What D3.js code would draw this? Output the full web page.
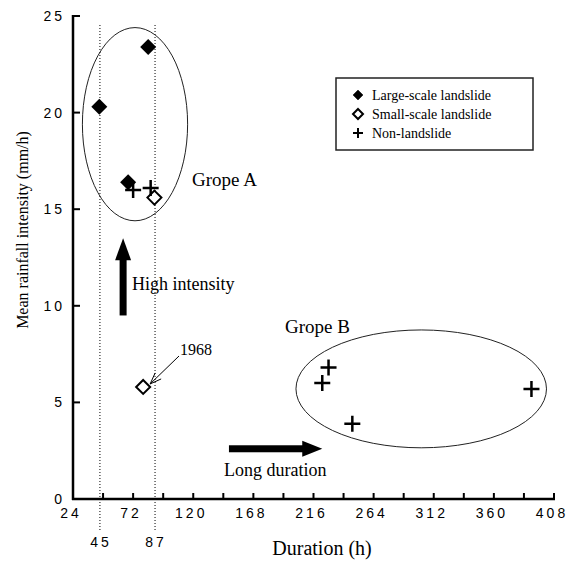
<!DOCTYPE html>
<html>
<head>
<meta charset="utf-8">
<title>Rainfall intensity vs duration</title>
<style>
body { margin: 0; background: #fff; }
.tick-label { font-family: 'Liberation Sans', Arial, sans-serif; font-size: 14px; letter-spacing: 3px; fill: #000; }
.serif { font-family: 'Liberation Serif', 'Times New Roman', serif; fill: #000; }
</style>
</head>
<body>
<svg width="569" height="564"></svg>
<script src="https://d3js.org/d3.v7.min.js"></script>
<script>
// data
var largeSlide = [[45, 20.3], [84, 23.4], [68, 16.4]];
var smallSlide = [[89, 15.6], [80, 5.8]];
var nonSlide = [[72, 16.0], [86, 16.1], [228, 6.8], [223, 6.0], [247, 3.9], [390, 5.7]];
var xTicks = [24, 72, 120, 168, 216, 264, 312, 360, 408];
var xMinor = [48, 96, 144, 192, 240, 288, 336, 384];
var yTicks = [0, 5, 10, 15, 20, 25];
// dotted guide lines: label and where the line is drawn on the duration axis
var markLabels = ["45", "87"];
var markAt = [45.5, 89.5];
// groups: centre duration, centre intensity, half width (h), half height (mm/h)
var groups = [
  {name: "Grope A", cx: 73.5, cy: 19.4, rx: 42, ry: 5.0},
  {name: "Grope B", cx: 302, cy: 5.7, rx: 100, ry: 3.05}
];
var legendItems = ["Large-scale landslide", "Small-scale landslide", "Non-landslide"];

var svg = d3.select("svg");
var x = d3.scaleLinear().domain([24, 408]).range([73, 554]);
var y = d3.scaleLinear().domain([0, 25]).range([499, 16]);

// dotted reference lines
svg.selectAll(".mark-line").data(markAt).enter().append("line")
  .attr("x1", d => x(d)).attr("x2", d => x(d))
  .attr("y1", 25).attr("y2", 530)
  .attr("stroke", "#000").attr("stroke-width", 1)
  .attr("stroke-dasharray", "1,2");
svg.selectAll(".mark-label").data(markLabels).enter().append("text")
  .attr("class", "tick-label")
  .attr("x", (d, i) => x(markAt[i]) + 1).attr("y", 547)
  .attr("text-anchor", "middle")
  .text(d => d);

// group ellipses
svg.selectAll(".group").data(groups).enter().append("ellipse")
  .attr("cx", d => x(d.cx)).attr("cy", d => y(d.cy))
  .attr("rx", d => x(d.cx + d.rx) - x(d.cx))
  .attr("ry", d => y(d.cy - d.ry) - y(d.cy))
  .attr("fill", "none").attr("stroke", "#222").attr("stroke-width", 1);

svg.append("text").attr("class", "serif").attr("font-size", 19)
  .attr("x", 192).attr("y", 186).text(groups[0].name);
svg.append("text").attr("class", "serif").attr("font-size", 19)
  .attr("x", 285).attr("y", 333).text(groups[1].name);

// axes
svg.append("line").attr("x1", 73).attr("x2", 73).attr("y1", 15).attr("y2", 500)
  .attr("stroke", "#000").attr("stroke-width", 2.5);
svg.append("line").attr("x1", 72).attr("x2", 555).attr("y1", 499).attr("y2", 499)
  .attr("stroke", "#000").attr("stroke-width", 2.5);

svg.selectAll(".ytick").data(yTicks).enter().append("line")
  .attr("x1", 73).attr("x2", 80)
  .attr("y1", d => y(d)).attr("y2", d => y(d))
  .attr("stroke", "#000").attr("stroke-width", 2);
svg.selectAll(".ylabel").data(yTicks).enter().append("text")
  .attr("class", "tick-label")
  .attr("x", 65).attr("y", d => y(d) + 5)
  .attr("text-anchor", "end")
  .text(d => d);

svg.selectAll(".xtick").data(xTicks.concat(xMinor)).enter().append("line")
  .attr("x1", d => x(d)).attr("x2", d => x(d))
  .attr("y1", 499).attr("y2", 493)
  .attr("stroke", "#000").attr("stroke-width", 2);
svg.selectAll(".xlabel").data(xTicks).enter().append("text")
  .attr("class", "tick-label")
  .attr("x", d => x(d) - 2).attr("y", 518)
  .attr("text-anchor", "middle")
  .text(d => d);

svg.append("text").attr("class", "serif").attr("font-size", 16)
  .attr("transform", "translate(28,230) rotate(-90)")
  .attr("text-anchor", "middle")
  .text("Mean rainfall intensity (mm/h)");
svg.append("text").attr("class", "serif").attr("font-size", 20)
  .attr("x", 322).attr("y", 555).attr("text-anchor", "middle")
  .text("Duration (h)");

// arrows
var upX = x(64), upBottom = y(9.5), upTop = y(13.5);
svg.append("rect").attr("x", upX - 3.5).attr("y", upTop + 20)
  .attr("width", 7).attr("height", upBottom - upTop - 20).attr("fill", "#000");
svg.append("path")
  .attr("d", `M${upX},${upTop} L${upX + 8},${upTop + 22} L${upX - 8},${upTop + 22} Z`)
  .attr("fill", "#000");
svg.append("text").attr("class", "serif").attr("font-size", 18)
  .attr("x", 132).attr("y", 290).text("High intensity");

var rY = y(2.6), rLeft = x(148.5), rRight = x(223);
svg.append("rect").attr("x", rLeft).attr("y", rY - 3.5)
  .attr("width", rRight - rLeft - 18).attr("height", 7).attr("fill", "#000");
svg.append("path")
  .attr("d", `M${rRight},${rY} L${rRight - 20},${rY - 8} L${rRight - 20},${rY + 8} Z`)
  .attr("fill", "#000");
svg.append("text").attr("class", "serif").attr("font-size", 18)
  .attr("x", 224).attr("y", 476).text("Long duration");

// 1968 annotation
var ann = smallSlide[1];
svg.append("text").attr("class", "serif").attr("font-size", 16)
  .attr("x", 180).attr("y", 355).text("1968");
svg.append("line")
  .attr("x1", 179).attr("y1", 356)
  .attr("x2", x(ann[0]) + 7).attr("y2", y(ann[1]) - 3)
  .attr("stroke", "#000").attr("stroke-width", 1);
svg.append("path")
  .attr("d", `M${x(ann[0]) + 12},${y(ann[1]) - 14} L${x(ann[0]) + 7},${y(ann[1]) - 3} L${x(ann[0]) + 18},${y(ann[1]) - 8}`)
  .attr("fill", "none").attr("stroke", "#000").attr("stroke-width", 1);

// marker shapes
function diamond(s) { return `M0,${-s} L${s},0 L0,${s} L${-s},0 Z`; }
function cross(s) { return `M${-s},0 L${s},0 M0,${-s} L0,${s}`; }

svg.selectAll(".large").data(largeSlide).enter().append("path")
  .attr("transform", d => `translate(${x(d[0])},${y(d[1])})`)
  .attr("d", diamond(8)).attr("fill", "#000");
svg.selectAll(".small").data(smallSlide).enter().append("path")
  .attr("transform", d => `translate(${x(d[0])},${y(d[1])})`)
  .attr("d", diamond(7)).attr("fill", "#fff").attr("stroke", "#000").attr("stroke-width", 2);
svg.selectAll(".non").data(nonSlide).enter().append("path")
  .attr("transform", d => `translate(${x(d[0])},${y(d[1])})`)
  .attr("d", cross(8)).attr("fill", "none").attr("stroke", "#000").attr("stroke-width", 2.5);

// legend
var legend = svg.append("g").attr("transform", "translate(336,78)");
legend.append("rect").attr("width", 197).attr("height", 72)
  .attr("fill", "#fff").attr("stroke", "#222").attr("stroke-width", 1.5);
var rows = legend.selectAll(".row").data(legendItems).enter().append("g")
  .attr("transform", (d, i) => `translate(22,${17 + i * 19})`);
rows.append("path")
  .attr("d", (d, i) => i === 2 ? cross(5) : diamond(5))
  .attr("fill", (d, i) => i === 0 ? "#000" : (i === 1 ? "#fff" : "none"))
  .attr("stroke", "#000").attr("stroke-width", (d, i) => i === 0 ? 0.5 : 2);
rows.append("text").attr("class", "serif").attr("font-size", 14)
  .attr("x", 14).attr("y", 5).text(d => d);
</script>
</body>
</html>
